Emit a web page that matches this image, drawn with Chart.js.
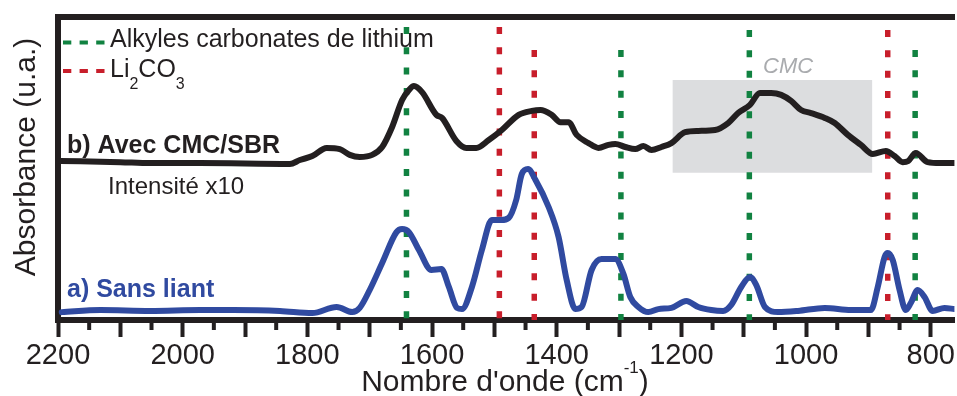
<!DOCTYPE html>
<html>
<head>
<meta charset="utf-8">
<script src="https://cdn.jsdelivr.net/npm/chart.js@4.4.0/dist/chart.umd.min.js"></script>
<style>
  body { margin: 0; background: #fff; }
  #wrap { width: 957px; height: 396px; position: relative; }
</style>
</head>
<body>
<div id="wrap"><canvas id="irChart"></canvas></div>
<script>
// b) Avec CMC/SBR (intensite x10, decalee)
const blackWn = [2196, 2100, 2052, 1972, 1828, 1812, 1792, 1769, 1748, 1732, 1716, 1696, 1680, 1664, 1648, 1637, 1629, 1616, 1593, 1584, 1561, 1545, 1529, 1509, 1488, 1461, 1440, 1426, 1408, 1394, 1381, 1368, 1349, 1333, 1317, 1306, 1290, 1274, 1261, 1248, 1232, 1216, 1194, 1173, 1146, 1125, 1109, 1090, 1074, 1056, 1040, 1024, 1008, 992, 970, 954, 933, 912, 893, 872, 858, 845, 836, 824, 805, 785, 762];
const blackAbs = [52.5, 52.1, 51.8, 51.8, 51.5, 52.8, 54.1, 56.8, 56.4, 54.5, 53.8, 54.5, 57.1, 63.7, 72.6, 75.9, 77.2, 75.2, 67.7, 66.7, 59.1, 56.8, 56.8, 59.4, 62.7, 67.7, 69.0, 69.3, 67.7, 65.3, 65.3, 61.1, 58.4, 56.8, 57.8, 58.1, 57.1, 56.4, 57.4, 56.1, 57.1, 58.4, 62.0, 62.4, 62.7, 65.0, 68.3, 71.0, 74.9, 74.9, 74.3, 72.3, 69.3, 68.3, 66.7, 65.0, 61.1, 57.8, 54.8, 55.8, 54.1, 52.1, 52.5, 55.1, 52.1, 51.8, 51.8];

// a) Sans liant
const blueWn = [2194, 2132, 2052, 1972, 1919, 1844, 1792, 1753, 1728, 1716, 1700, 1680, 1657, 1648, 1637, 1621, 1601, 1585, 1573, 1560, 1552, 1536, 1520, 1504, 1489, 1477, 1465, 1456, 1446, 1434, 1413, 1397, 1384, 1370, 1360, 1344, 1328, 1306, 1293, 1282, 1269, 1253, 1237, 1216, 1192, 1173, 1152, 1133, 1120, 1104, 1090, 1080, 1066, 1045, 1013, 970, 928, 896, 885, 874, 869, 861, 850, 840, 832, 821, 810, 797, 778, 762];
const blueAbs = [2.6, 3.3, 3.0, 3.3, 3.3, 3.0, 2.3, 4.3, 2.6, 4.0, 9.9, 18.8, 29.0, 30.0, 29.0, 23.1, 16.5, 16.8, 10.9, 4.0, 3.6, 10.9, 23.1, 33.0, 33.0, 33.7, 39.6, 48.2, 49.8, 46.2, 37.3, 27.4, 13.2, 3.6, 4.3, 16.5, 20.1, 20.1, 15.2, 7.6, 4.3, 2.6, 3.6, 4.0, 6.3, 4.3, 3.3, 3.0, 5.0, 10.9, 14.2, 11.6, 4.3, 2.6, 3.0, 4.0, 3.3, 3.3, 10.9, 20.8, 22.1, 19.8, 9.9, 3.3, 5.6, 9.9, 7.6, 3.0, 4.0, 3.6];

// bandes de reference (traits pointilles)
const alkylLines = [1641, 1297, 1091, 825];
const alkylTops = [96.7, 89.1, 95.7, 89.1];
const li2co3Lines = [1492, 1436, 869];
const li2co3Tops = [96.7, 89.1, 95.7];

// zone CMC
const cmcRange = [1214, 894];
const cmcAbs = [48.6, 79.2];

// axe x
const xRange = [762, 2200];
const xMajorTicks = [2200, 2100, 2000, 1900, 1800, 1700, 1600, 1500, 1400, 1300, 1200, 1100, 1000, 900, 800];
const xMinorTicks = [2150, 2050, 1950, 1850, 1750, 1650, 1550, 1450, 1350, 1250, 1150, 1050, 950, 850];
const xLabelTicks = [2200, 2000, 1800, 1600, 1400, 1200, 1000, 800];

const INK = '#231f20';
const GREEN = '#118241';
const RED = '#c81e2b';
const BLUE = '#304aa0';
const FONT = '"Liberation Sans", Arial, sans-serif';

function toPoints(xs, ys) {
    return xs.map((x, i) => ({ x: x, y: ys[i] }));
}

function dashedLine(x, top, color) {
    return {
        data: [{ x: x, y: top }, { x: x, y: 0 }],
        borderColor: color,
        borderWidth: 5.5,
        borderDash: [7, 13.3],
        pointRadius: 0,
        order: 5
    };
}

const datasets = [
    {
        data: toPoints(blackWn, blackAbs),
        borderColor: INK, borderWidth: 6, pointRadius: 0,
        cubicInterpolationMode: 'monotone', borderJoinStyle: 'round', borderCapStyle: 'round', order: 1
    },
    {
        data: toPoints(blueWn, blueAbs),
        borderColor: BLUE, borderWidth: 6, pointRadius: 0,
        cubicInterpolationMode: 'monotone', borderJoinStyle: 'round', borderCapStyle: 'round', order: 1
    }
];
alkylLines.forEach((x, i) => datasets.push(dashedLine(x, alkylTops[i], GREEN)));
li2co3Lines.forEach((x, i) => datasets.push(dashedLine(x, li2co3Tops[i], RED)));

// rectangle gris derriere les courbes
const cmcBox = {
    id: 'cmcBox',
    beforeDatasetsDraw(chart) {
        const { ctx, scales: { x, y } } = chart;
        const x1 = x.getPixelForValue(cmcRange[0]);
        const x2 = x.getPixelForValue(cmcRange[1]);
        const y1 = y.getPixelForValue(cmcAbs[1]);
        const y2 = y.getPixelForValue(cmcAbs[0]);
        ctx.save();
        ctx.fillStyle = '#dcdddf';
        ctx.fillRect(x1, y1, x2 - x1, y2 - y1);
        ctx.restore();
    }
};

// textes, legende, petites graduations
const annotations = {
    id: 'annotations',
    afterDraw(chart) {
        const { ctx, chartArea, scales: { x } } = chart;
        ctx.save();

        // graduations mineures
        ctx.strokeStyle = INK;
        ctx.lineWidth = 4;
        xMinorTicks.forEach(v => {
            const px = x.getPixelForValue(v);
            ctx.beginPath();
            ctx.moveTo(px, chartArea.bottom + 3);
            ctx.lineTo(px, chartArea.bottom + 10);
            ctx.stroke();
        });

        // legende
        ctx.lineWidth = 4;
        ctx.setLineDash([8.3, 8.3]);
        ctx.strokeStyle = GREEN;
        ctx.beginPath(); ctx.moveTo(63, 42.5); ctx.lineTo(105, 42.5); ctx.stroke();
        ctx.strokeStyle = RED;
        ctx.beginPath(); ctx.moveTo(63, 71); ctx.lineTo(105, 71); ctx.stroke();
        ctx.setLineDash([]);

        ctx.fillStyle = INK;
        ctx.textAlign = 'left';
        ctx.textBaseline = 'alphabetic';
        ctx.font = '25px ' + FONT;
        ctx.fillText('Alkyles carbonates de lithium', 110, 47);
        let cx = 110;
        const part = (txt, size, base) => {
            ctx.font = size + 'px ' + FONT;
            ctx.fillText(txt, cx, base);
            cx += ctx.measureText(txt).width;
        };
        part('Li', 25, 77.3);
        part('2', 16, 89);
        part('CO', 25, 77.3);
        part('3', 16, 89);

        // CMC
        ctx.fillStyle = '#a9abae';
        ctx.font = 'italic 22px ' + FONT;
        ctx.fillText('CMC', 763, 73);

        // etiquettes des courbes
        ctx.fillStyle = INK;
        ctx.font = 'bold 25px ' + FONT;
        ctx.fillText('b) Avec CMC/SBR', 67, 153);
        ctx.font = '24px ' + FONT;
        ctx.fillText('Intensité x10', 108, 194);
        ctx.fillStyle = BLUE;
        ctx.font = 'bold 25px ' + FONT;
        ctx.fillText('a) Sans liant', 67, 297);

        // titre axe y
        ctx.fillStyle = INK;
        ctx.font = '30px ' + FONT;
        ctx.save();
        ctx.translate(35, 157);
        ctx.rotate(-Math.PI / 2);
        ctx.textAlign = 'center';
        ctx.fillText('Absorbance (u.a.)', 0, 0);
        ctx.restore();

        // titre axe x avec exposant
        ctx.font = '30px ' + FONT;
        const main = 'Nombre d\'onde (cm';
        const wMain = ctx.measureText(main).width;
        ctx.font = '17px ' + FONT;
        const wSup = ctx.measureText('-1').width;
        ctx.font = '30px ' + FONT;
        const wEnd = ctx.measureText(')').width;
        let tx = 505 - (wMain + wSup + wEnd) / 2;
        ctx.fillText(main, tx, 390.5);
        tx += wMain;
        ctx.font = '17px ' + FONT;
        ctx.fillText('-1', tx, 373);
        tx += wSup;
        ctx.font = '30px ' + FONT;
        ctx.fillText(')', tx, 390.5);

        ctx.restore();
    }
};

new Chart(document.getElementById('irChart'), {
    type: 'line',
    data: { datasets: datasets },
    options: {
        responsive: true,
        maintainAspectRatio: false,
        animation: false,
        layout: { padding: 0 },
        plugins: { legend: { display: false }, tooltip: { enabled: false } },
        scales: {
            x: {
                type: 'linear',
                position: 'bottom',
                reverse: true,
                min: xRange[0],
                max: xRange[1],
                afterFit: scale => { scale.height = 76; },
                afterBuildTicks: scale => { scale.ticks = xMajorTicks.map(v => ({ value: v })); },
                ticks: {
                    autoSkip: false,
                    maxRotation: 0,
                    padding: 2,
                    color: INK,
                    font: { family: FONT, size: 29 },
                    callback: v => xLabelTicks.includes(v) ? String(v) : ''
                },
                grid: { drawOnChartArea: false, drawTicks: true, tickLength: 17, tickWidth: 4, tickColor: INK },
                border: { display: true, width: 6, color: INK }
            },
            xTop: {
                type: 'linear',
                position: 'top',
                reverse: true,
                min: xRange[0],
                max: xRange[1],
                afterFit: scale => { scale.height = 17; },
                ticks: { display: false },
                grid: { display: false },
                border: { display: true, width: 6, color: INK }
            },
            y: {
                min: 0,
                max: 100,
                afterFit: scale => { scale.width = 58; },
                ticks: { display: false },
                grid: { display: false },
                border: { display: true, width: 6, color: INK }
            }
        }
    },
    plugins: [cmcBox, annotations]
});
</script>
</body>
</html>
